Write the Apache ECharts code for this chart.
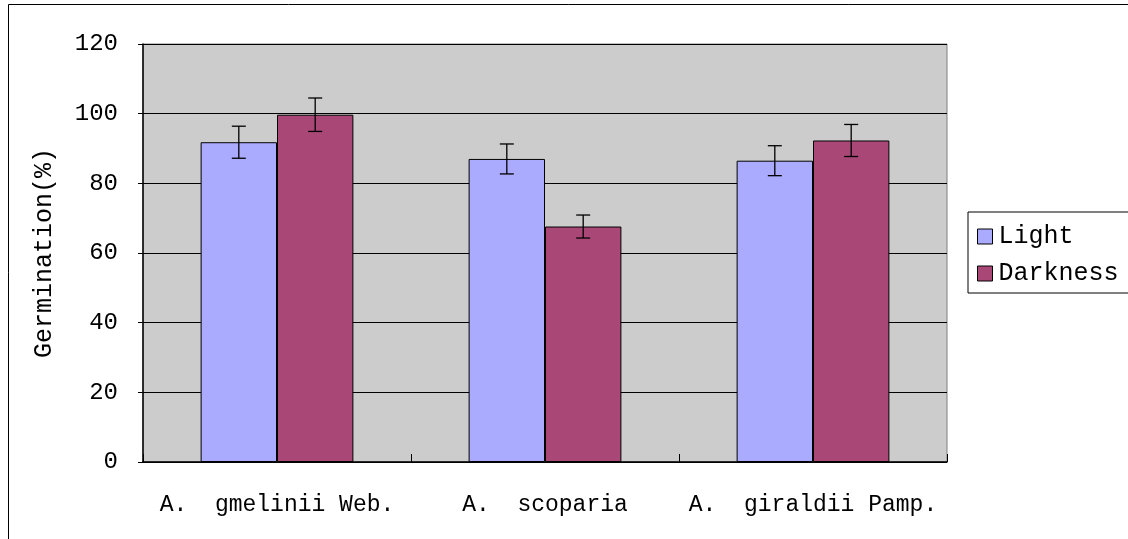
<!DOCTYPE html>
<html lang="en">
<head>
	<meta charset="UTF-8">
	<title>Germination</title>
	<script type="text/javascript" src="https://cdn.jsdelivr.net/npm/echarts@6/dist/echarts.min.js"></script>
	<style>
		html, body { margin: 0; padding: 0; background: #fff; }
	</style>
</head>
<body>
	<div id="main" style="width: 1128px; height: 539px;"></div>
	<script type="text/javascript">
		var categories = ['A.  gmelinii Web.', 'A.  scoparia', 'A.  giraldii Pamp.'];
		var lightValues = [91.8, 87.0, 86.5];
		var lightErrors = [4.6, 4.3, 4.3];
		var darkValues = [99.7, 67.6, 92.3];
		var darkErrors = [4.8, 3.3, 4.6];
		var yTicks = [0, 20, 40, 60, 80, 100, 120];

		var font = 'Liberation Mono';
		var barShare = 0.285;

		function errorSeries(name, values, errors, side) {
			var data = values.map(function (v, i) { return [i, v, errors[i]]; });
			return {
				name: name + ' err',
				type: 'custom',
				z: 5,
				silent: true,
				data: data,
				renderItem: function (params, api) {
					var band = api.size([1, 0])[0];
					var shift = side * band * barShare / 2;
					var v = api.value(1), e = api.value(2);
					var hi = api.coord([api.value(0), v + e]);
					var lo = api.coord([api.value(0), v - e]);
					var x = hi[0] + shift;
					var cap = 7;
					var style = { stroke: '#000', lineWidth: 1.3 };
					return {
						type: 'group',
						children: [
							{ type: 'line', shape: { x1: x, y1: hi[1], x2: x, y2: lo[1] }, style: style },
							{ type: 'line', shape: { x1: x - cap, y1: hi[1], x2: x + cap, y2: hi[1] }, style: style },
							{ type: 'line', shape: { x1: x - cap, y1: lo[1], x2: x + cap, y2: lo[1] }, style: style }
						]
					};
				}
			};
		}

		var myChart = echarts.init(document.getElementById('main'));
		var option = {
			animation: false,
			backgroundColor: '#fff',
			textStyle: { fontFamily: font },
			graphic: [{
				type: 'rect',
				shape: { x: 8.5, y: 4.5, width: 1140, height: 560 },
				style: { fill: 'none', stroke: '#000', lineWidth: 1 },
				silent: true
			}],
			grid: {
				left: 143, right: 181, top: 44, bottom: 77,
				show: true,
				backgroundColor: '#CCCCCC',
				borderColor: '#808080',
				borderWidth: 1
			},
			legend: {
				orient: 'vertical',
				left: 968,
				top: 212,
				padding: [12, 10, 7, 9],
				itemGap: 12,
				itemWidth: 15,
				itemHeight: 15,
				borderColor: '#000',
				borderWidth: 1,
				backgroundColor: '#fff',
				textStyle: { fontFamily: font, fontSize: 25, color: '#000', padding: [0, 0, 0, 1] },
				data: [
					{ name: 'Light', icon: 'rect', itemStyle: { borderColor: '#000', borderWidth: 1 } },
					{ name: 'Darkness', icon: 'rect', itemStyle: { borderColor: '#000', borderWidth: 1 } }
				]
			},
			xAxis: {
				type: 'category',
				data: categories,
				axisLine: { lineStyle: { color: '#000', width: 1.5 } },
				axisTick: { show: true, inside: true, length: 8, interval: 0, lineStyle: { color: '#000' } },
				axisLabel: { fontFamily: font, fontSize: 23, color: '#000', margin: 31, interval: 0 }
			},
			yAxis: {
				type: 'value',
				min: 0,
				max: 120,
				interval: 20,
				name: 'Germination(%)',
				nameLocation: 'middle',
				nameGap: 86,
				nameRotate: 90,
				nameTextStyle: { fontFamily: font, fontSize: 25, color: '#000' },
				axisLine: { show: true, lineStyle: { color: '#000', width: 1.5 } },
				axisTick: { show: true, length: 5, lineStyle: { color: '#000' } },
				axisLabel: {
					fontFamily: font, fontSize: 24, color: '#000', margin: 25,
					formatter: function (v) { return yTicks.indexOf(v) >= 0 ? String(v) : ''; }
				},
				splitLine: { show: true, lineStyle: { color: '#000', width: 1 } }
			},
			series: [
				{
					name: 'Light',
					type: 'bar',
					barWidth: (barShare * 100) + '%',
					barGap: '0%',
					data: lightValues,
					itemStyle: { color: '#AAAAFF', borderColor: '#000', borderWidth: 1 }
				},
				{
					name: 'Darkness',
					type: 'bar',
					barWidth: (barShare * 100) + '%',
					barGap: '0%',
					data: darkValues,
					itemStyle: { color: '#A94877', borderColor: '#000', borderWidth: 1 }
				},
				errorSeries('Light', lightValues, lightErrors, -1),
				errorSeries('Darkness', darkValues, darkErrors, 1)
			]
		};
		myChart.setOption(option);
	</script>
</body>
</html>
